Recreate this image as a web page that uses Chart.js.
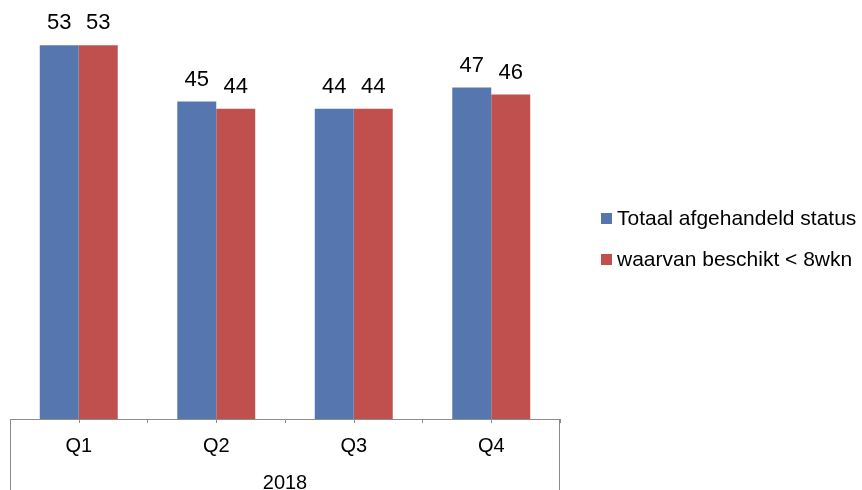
<!DOCTYPE html>
<html>
<head>
<meta charset="utf-8">
<script src="https://cdn.jsdelivr.net/npm/chart.js@4/dist/chart.umd.min.js"></script>
<style>
  html, body { margin: 0; padding: 0; background: #fff; }
  canvas { display: block; }
</style>
</head>
<body>
<canvas id="chart" width="862" height="490"></canvas>
<script>
// ===== DATA =====
const quarters = ['Q1', 'Q2', 'Q3', 'Q4'];
const yearLabel = '2018';
const totaal = [53, 45, 44, 47];
const binnen8wkn = [53, 44, 44, 46];
const seriesNames = ['Totaal afgehandeld status', 'waarvan beschikt < 8wkn'];
const seriesColors = ['#5676B0', '#C0504D'];

const FONT = 'Liberation Sans, Arial, Helvetica, sans-serif';
const axisGray = '#8C8C8C';

// value labels above each bar
const valueLabels = {
  id: 'valueLabels',
  afterDatasetsDraw(chart) {
    const ctx = chart.ctx;
    ctx.save();
    ctx.font = '22px ' + FONT;
    ctx.fillStyle = '#000';
    ctx.textAlign = 'center';
    ctx.textBaseline = 'middle';
    chart.data.datasets.forEach((ds, i) => {
      chart.getDatasetMeta(i).data.forEach((bar, j) => {
        ctx.fillText(ds.data[j], bar.x, bar.y - 22);
      });
    });
    ctx.restore();
  }
};

// centre tick marks + the outer lines of the year group
const groupAxis = {
  id: 'groupAxis',
  afterDraw(chart) {
    const ctx = chart.ctx;
    const x = chart.scales.x;
    ctx.save();
    ctx.strokeStyle = axisGray;
    ctx.lineWidth = 1;
    ctx.beginPath();
    quarters.forEach((q, i) => {
      const px = Math.round(x.getPixelForValue(i)) + 0.5;
      ctx.moveTo(px, x.top);
      ctx.lineTo(px, x.top + 4);
    });
    ctx.moveTo(Math.round(x.left) + 0.5, x.top);
    ctx.lineTo(Math.round(x.left) + 0.5, chart.height);
    ctx.moveTo(Math.round(x.right) - 0.5, x.top);
    ctx.lineTo(Math.round(x.right) - 0.5, chart.height);
    ctx.stroke();
    ctx.restore();
  }
};

// legend on the right
const sideLegend = {
  id: 'sideLegend',
  afterDraw(chart) {
    const ctx = chart.ctx;
    ctx.save();
    ctx.font = '21px ' + FONT;
    ctx.textBaseline = 'middle';
    ctx.textAlign = 'left';
    chart.data.datasets.forEach((ds, i) => {
      const cy = 219 + i * 41;
      ctx.fillStyle = ds.backgroundColor;
      ctx.fillRect(601, cy - 6, 11, 11);
      ctx.fillStyle = '#000';
      ctx.fillText(ds.label, 617, cy);
    });
    ctx.restore();
  }
};

new Chart(document.getElementById('chart'), {
  type: 'bar',
  data: {
    labels: quarters,
    datasets: [
      { label: seriesNames[0], data: totaal, backgroundColor: seriesColors[0] },
      { label: seriesNames[1], data: binnen8wkn, backgroundColor: seriesColors[1] }
    ]
  },
  options: {
    responsive: false,
    animation: false,
    categoryPercentage: 0.567,
    barPercentage: 1,
    layout: { padding: { left: 10, right: 302, top: 0, bottom: 0 } },
    plugins: {
      legend: { display: false },
      tooltip: { enabled: false }
    },
    scales: {
      x: {
        afterFit: s => { s.height = 71; },
        grid: { drawOnChartArea: false, color: axisGray, tickLength: 4, offset: true },
        border: { color: axisGray },
        ticks: { color: '#000', font: { family: FONT, size: 20 }, padding: 11 },
        title: {
          display: true,
          text: yearLabel,
          color: '#000',
          font: { family: FONT, size: 20, lineHeight: 1 },
          padding: { top: 0, bottom: -3 }
        }
      },
      y: {
        display: false,
        min: 0,
        max: 59.4
      }
    }
  },
  plugins: [valueLabels, groupAxis, sideLegend]
});
</script>
</body>
</html>
